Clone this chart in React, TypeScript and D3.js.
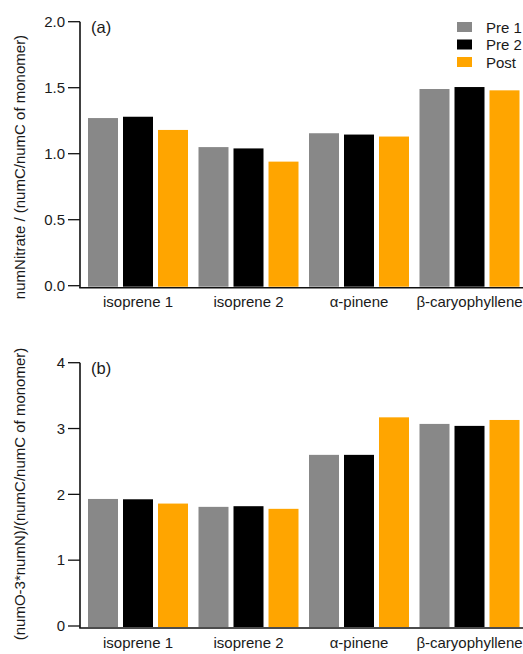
import React from "react";
import * as d3 from "d3";

const categories = ["isoprene 1", "isoprene 2", "α-pinene", "β-caryophyllene"];
const seriesNames = ["Pre 1", "Pre 2", "Post"];
const seriesColors = ["#888888", "#000000", "#FFA500"];

const nitratePre1 = [1.27, 1.05, 1.155, 1.49];
const nitratePre2 = [1.28, 1.04, 1.145, 1.505];
const nitratePost = [1.18, 0.94, 1.13, 1.48];

const oxPre1 = [1.93, 1.81, 2.6, 3.07];
const oxPre2 = [1.925, 1.82, 2.6, 3.04];
const oxPost = [1.86, 1.78, 3.17, 3.13];

const ticksA = [0, 0.5, 1.0, 1.5, 2.0];
const ticksB = [0, 1, 2, 3, 4];

const W = 523;
const H = 654;
const FONT = "Liberation Sans, Arial, sans-serif";
const TXT = "#1a1a1a";

const xOuter = d3
  .scaleBand<string>()
  .domain(categories)
  .range([82.75, 524.75])
  .paddingInner(0.095)
  .paddingOuter(0.0475);
const xInner = d3
  .scaleBand<string>()
  .domain(seriesNames)
  .range([0, xOuter.bandwidth()])
  .paddingInner(0.143)
  .paddingOuter(0);

type PanelProps = {
  label: string;
  title: string;
  series: number[][];
  domain: [number, number];
  range: [number, number];
  ticks: number[];
  fmt: (v: number) => string;
  xLabelY: number;
  titleCenterY: number;
  legend?: boolean;
};

function Panel({ label, title, series, domain, range, ticks, fmt, xLabelY, titleCenterY, legend }: PanelProps) {
  const y = d3.scaleLinear().domain(domain).range(range);
  const axisX = 80;
  const y0 = y(0);
  const top = y(domain[1]);
  return (
    <g>
      {categories.map((c, ci) =>
        seriesNames.map((s, si) => {
          const v = series[si][ci];
          const x = (xOuter(c) as number) + (xInner(s) as number);
          return (
            <rect
              key={c + s}
              x={x}
              y={y(v)}
              width={xInner.bandwidth()}
              height={y0 + 1 - y(v)}
              fill={seriesColors[si]}
            />
          );
        })
      )}
      {/* y axis */}
      <line x1={axisX} x2={axisX} y1={top} y2={y0 + 2} stroke="#111" strokeWidth={1.6} />
      <line x1={axisX - 0.8} x2={W} y1={y0 + 2} y2={y0 + 2} stroke="#111" strokeWidth={1.6} />
      {ticks.map((t) => (
        <g key={t}>
          <line x1={axisX - 12} x2={axisX} y1={y(t)} y2={y(t)} stroke="#111" strokeWidth={1.3} />
          <text
            x={axisX - 15}
            y={y(t)}
            dy="0.35em"
            textAnchor="end"
            fontFamily={FONT}
            fontSize={15}
            fill={TXT}
          >
            {fmt(t)}
          </text>
        </g>
      ))}
      {categories.map((c) => (
        <text
          key={c}
          x={(xOuter(c) as number) + xOuter.bandwidth() / 2}
          y={xLabelY}
          textAnchor="middle"
          fontFamily={FONT}
          fontSize={15}
          fill={TXT}
        >
          {c}
        </text>
      ))}
      <text x={91} y={top + 11} fontFamily={FONT} fontSize={16.5} fill={TXT}>
        {label}
      </text>
      <text
        transform={`translate(25,${titleCenterY}) rotate(-90)`}
        textAnchor="middle"
        fontFamily={FONT}
        fontSize={15}
        fill={TXT}
      >
        {title}
      </text>
      {legend &&
        seriesNames.map((s, i) => (
          <g key={s} transform={`translate(457,${22 + i * 17.5})`}>
            <rect x={0} y={0} width={15} height={10} fill={seriesColors[i]} />
            <text x={29} y={10.5} fontFamily={FONT} fontSize={15} fill={TXT}>
              {s}
            </text>
          </g>
        ))}
    </g>
  );
}

export default function App() {
  return (
    <svg
      width={W}
      height={H}
      style={{ position: "absolute", left: 0, top: 0, background: "#fff" }}
    >
      <rect width={W} height={H} fill="#fff" />
      <Panel
        label="(a)"
        title="numNitrate / (numC/numC of monomer)"
        series={[nitratePre1, nitratePre2, nitratePost]}
        domain={[0, 2]}
        range={[285.7, 21.7]}
        ticks={ticksA}
        fmt={(v) => v.toFixed(1)}
        xLabelY={307}
        titleCenterY={167}
        legend
      />
      <Panel
        label="(b)"
        title="(numO-3*numN)/(numC/numC of monomer)"
        series={[oxPre1, oxPre2, oxPost]}
        domain={[0, 4]}
        range={[626, 362.7]}
        ticks={ticksB}
        fmt={(v) => String(v)}
        xLabelY={648}
        titleCenterY={494}
      />
    </svg>
  );
}
